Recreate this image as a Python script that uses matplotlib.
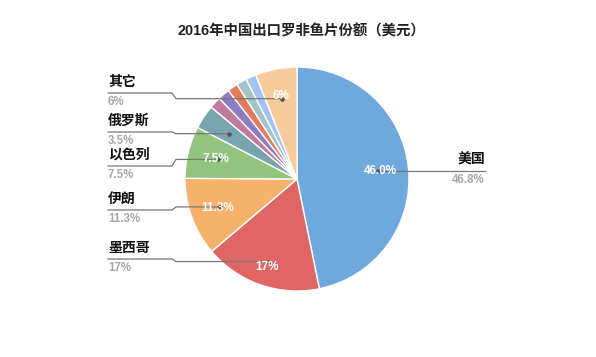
import numpy as np
import matplotlib
matplotlib.use("Agg")
import matplotlib.pyplot as plt

plt.rcParams['font.family'] = ['Liberation Sans', 'Noto Sans CJK SC', 'DejaVu Sans']

# ---- data ----
title = "2016年中国出口罗非鱼片份额（美元）"
categories = ["美国", "墨西哥", "伊朗", "以色列", "俄罗斯", "其它5", "其它4", "其它3", "其它2", "其它1", "其它"]
values = [46.8, 17.0, 11.3, 7.5, 3.5, 1.7, 1.7, 1.5, 1.5, 1.5, 6.0]
inner_labels = ["46.0%", "17%", "11.3%", "7.5%", "", "", "", "", "", "", "6%"]
outer_names = {"美国": "美国", "墨西哥": "墨西哥", "伊朗": "伊朗", "以色列": "以色列", "俄罗斯": "俄罗斯", "其它": "其它"}
outer_values = {"美国": "46.8%", "墨西哥": "17%", "伊朗": "11.3%", "以色列": "7.5%", "俄罗斯": "3.5%", "其它": "6%"}
colors = ["#6fa8dc", "#e06666", "#f6b26b", "#93c47d", "#76a5af", "#c27ba0",
          "#8e7cc3", "#e27b5c", "#a2c4c9", "#a4c2f4", "#f9cb9c"]

# ---- layout ----
W, H = 596, 357
fig = plt.figure(figsize=(W / 100, H / 100), dpi=100)
ax = fig.add_axes([0, 0, 1, 1])

cx, cy, R = 297, H - 179, 112
wedges, _ = ax.pie(values, center=(cx, cy), radius=R, startangle=90, counterclock=False,
                   colors=colors, wedgeprops=dict(edgecolor='white', linewidth=1.0))
ax.set_xlim(0, W)
ax.set_ylim(0, H)
ax.set_aspect('equal')
ax.axis('off')

ax.text(W / 2 + 3, H - 31, title, ha='center', va='center', fontsize=10.4, fontweight='bold', color='#222222')

label_r = {"墨西哥": 0.83}
line_col = '#777777'
# left label line y positions (pixels from top)
left_line_y = {"其它": 93, "俄罗斯": 132, "以色列": 166, "伊朗": 210, "墨西哥": 259}

for w, cat, lab in zip(wedges, categories, inner_labels):
    mid = np.deg2rad((w.theta1 + w.theta2) / 2)
    if lab:
        r = label_r.get(cat, 0.75) * R
        ax.text(cx + r * np.cos(mid), cy + r * np.sin(mid), lab, ha='center', va='center',
                fontsize=8.5, fontweight='bold', color='white', zorder=5)
    if cat in outer_names:
        rd = 0.73 * R if cat != "墨西哥" else 0.78 * R
        dx, dy = cx + rd * np.cos(mid), cy + rd * np.sin(mid)
        if cat == "美国":
            ly = dy
            ax.plot([dx, 485], [ly, ly], color=line_col, lw=0.9, zorder=4)
            ax.plot([dx], [dy], 'o', ms=2.3, color='#555555', zorder=4)
            ax.text(485, ly + 4, outer_names[cat], ha='right', va='bottom', fontsize=10,
                    fontweight='bold', color='#111111')
            ax.text(485, ly - 3, outer_values[cat], ha='right', va='top', fontsize=8.3,
                    fontweight='bold', color='#a6a6a6')
        else:
            ly = H - left_line_y[cat]
            ax.plot([108, 172, 176, dx], [ly, ly, dy, dy], color=line_col, lw=0.9, zorder=4)
            ax.plot([dx], [dy], 'o', ms=2.3, color='#555555', zorder=4)
            ax.text(108, ly + 4, outer_names[cat], ha='left', va='bottom', fontsize=10,
                    fontweight='bold', color='#111111')
            ax.text(108, ly - 3, outer_values[cat], ha='left', va='top', fontsize=8.3,
                    fontweight='bold', color='#a6a6a6')

fig.savefig("out.png", dpi=100, facecolor='white')
